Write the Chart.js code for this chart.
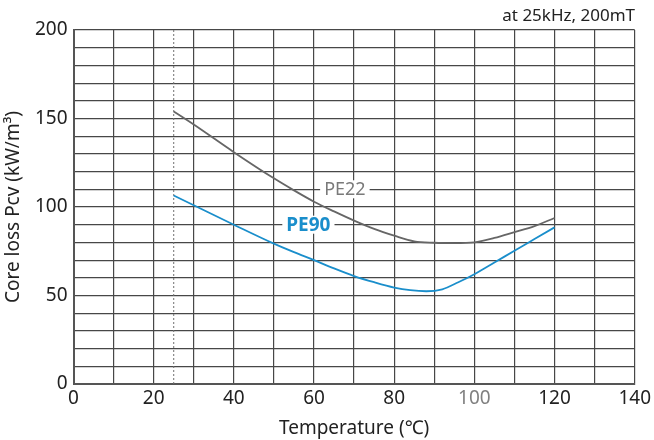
<!DOCTYPE html>
<html>
<head>
<meta charset="utf-8">
<script src="https://cdn.jsdelivr.net/npm/chart.js@4"></script>
<style>
  html, body { margin: 0; padding: 0; background: #fff; }
  #wrap { width: 654px; height: 440px; position: relative; }
</style>
</head>
<body>
<div id="wrap"><canvas id="lossChart" width="654" height="440"></canvas></div>
<script>
// Core loss vs temperature
const temps = [25, 30, 40, 50, 55, 60, 65, 70, 75, 80, 85, 90, 95, 100, 105, 110, 115, 120];
const pe22Loss = [154, 146.6, 131, 116.2, 109.4, 103, 97.5, 92.3, 87.6, 83.8, 80.6, 79.8, 79.6, 80, 82.5, 85.8, 89.2, 93.8];
const pe90Temps = [25, 30, 40, 50, 55, 60, 65, 70, 75, 80, 84, 88, 92, 96, 100, 105, 110, 115, 120];
const pe90Loss = [106.5, 101, 90, 79.3, 74.5, 70, 65.3, 61, 57.5, 54.5, 53, 52.4, 53.5, 57.5, 62, 68.6, 75.3, 81.9, 88.5];
const refTemp = [25, 25];
const refLoss = [0, 200];
const xTicks = [0, 20, 40, 60, 80, 100, 120, 140];
const yTicks = [0, 50, 100, 150, 200];

const FONT = "'Noto Sans', sans-serif";
const GRID = '#474747';

function toPoints(xs, ys) {
  return xs.map((x, i) => ({ x: x, y: ys[i] }));
}

function stepTicks(max, step) {
  const t = [];
  for (let v = 0; v <= max; v += step) t.push({ value: v });
  return t;
}

// curve labels + condition note
const labelPlugin = {
  id: 'curveLabels',
  afterDraw(chart) {
    const { ctx, scales } = chart;
    const x = scales.x, y = scales.y;
    const tags = [
      { text: 'PE22', tx: 67.7, ty: 110, color: '#7a7a7a', weight: 'normal', size: 18 },
      { text: 'PE90', tx: 58.6, ty: 90, color: '#1a8ecb', weight: 'bold', size: 19 },
    ];
    ctx.save();
    tags.forEach(t => {
      ctx.font = t.weight + ' ' + t.size + 'px ' + FONT;
      const px = x.getPixelForValue(t.tx);
      const py = y.getPixelForValue(t.ty);
      const w = ctx.measureText(t.text).width;
      ctx.fillStyle = '#fff';
      ctx.fillRect(px - w / 2 - 4, py - 9, w + 8, 18);
      ctx.fillStyle = t.color;
      ctx.textAlign = 'center';
      ctx.textBaseline = 'middle';
      ctx.fillText(t.text, px, py + 1);
    });
    ctx.font = '17px ' + FONT;
    ctx.fillStyle = '#222';
    ctx.textAlign = 'right';
    ctx.textBaseline = 'middle';
    ctx.fillText('at 25kHz, 200mT', 635, 16);
    ctx.restore();
  }
};

new Chart(document.getElementById('lossChart'), {
  type: 'line',
  data: {
    datasets: [
      {
        label: 'PE22',
        data: toPoints(temps, pe22Loss),
        borderColor: '#666',
        borderWidth: 1.8,
        pointRadius: 0,
        cubicInterpolationMode: 'monotone',
      },
      {
        label: 'PE90',
        data: toPoints(pe90Temps, pe90Loss),
        borderColor: '#1a8ecb',
        borderWidth: 1.8,
        pointRadius: 0,
        cubicInterpolationMode: 'monotone',
      },
      {
        label: '25C',
        data: toPoints(refTemp, refLoss),
        borderColor: '#707070',
        borderWidth: 1,
        borderDash: [2, 2],
        pointRadius: 0,
      },
    ],
  },
  options: {
    responsive: false,
    animation: false,
    layout: { padding: { top: 30, right: 19, left: 0, bottom: 0 } },
    plugins: { legend: { display: false }, tooltip: { enabled: false } },
    scales: {
      x: {
        type: 'linear',
        min: 0,
        max: 140,
        afterFit(s) { s.height = 56; },
        afterBuildTicks(s) { s.ticks = stepTicks(140, 10); },
        grid: { color: GRID, lineWidth: 1.2, drawTicks: false },
        border: { color: '#555', width: 2 },
        ticks: {
          autoSkip: false,
          maxRotation: 0,
          padding: 3,
          color: c => (c.tick.value === 100 ? '#808080' : '#222'),
          font: { family: FONT, size: 19 },
          callback: v => (xTicks.includes(v) ? String(v) : ''),
        },
        title: {
          display: true,
          text: 'Temperature (℃)',
          color: '#222',
          font: { family: FONT, size: 19 },
          padding: { top: 0, bottom: 0 },
        },
      },
      y: {
        min: 0,
        max: 200,
        afterFit(s) { s.width = 73.5; },
        afterBuildTicks(s) { s.ticks = stepTicks(200, 10); },
        grid: { color: GRID, lineWidth: 1.2, drawTicks: false },
        border: { color: '#555', width: 2 },
        ticks: {
          autoSkip: false,
          padding: 6,
          color: '#222',
          font: { family: FONT, size: 19 },
          callback: v => (yTicks.includes(v) ? String(v) : ''),
        },
        title: {
          display: true,
          text: 'Core loss Pcv (kW/m³)',
          color: '#222',
          font: { family: FONT, size: 19 },
          padding: { top: 2, bottom: 0 },
        },
      },
    },
  },
  plugins: [labelPlugin],
});
</script>
</body>
</html>
